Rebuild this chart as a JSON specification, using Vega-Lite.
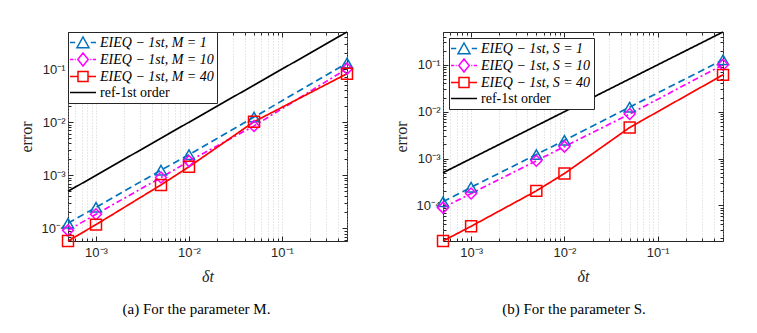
{
  "$schema": "https://vega.github.io/schema/vega-lite/v6.json",
  "padding": {"left": 18, "top": 28, "right": 5, "bottom": 5},
  "background": "white",
  "spacing": 37,
  "resolve": {"scale": {"color": "independent", "shape": "independent"}, "legend": {"color": "independent", "shape": "independent"}},
  "datasets": {
    "a": [
      {"dt": 0.0005, "err": 0.000125, "series": "EIEQ − 1st, M = 1"},
      {"dt": 0.001, "err": 0.00025, "series": "EIEQ − 1st, M = 1"},
      {"dt": 0.005, "err": 0.00125, "series": "EIEQ − 1st, M = 1"},
      {"dt": 0.01, "err": 0.00245, "series": "EIEQ − 1st, M = 1"},
      {"dt": 0.05, "err": 0.0125, "series": "EIEQ − 1st, M = 1"},
      {"dt": 0.5, "err": 0.13, "series": "EIEQ − 1st, M = 1"},
      {"dt": 0.0005, "err": 0.000092, "series": "EIEQ − 1st, M = 10"},
      {"dt": 0.001, "err": 0.000185, "series": "EIEQ − 1st, M = 10"},
      {"dt": 0.005, "err": 0.00091, "series": "EIEQ − 1st, M = 10"},
      {"dt": 0.01, "err": 0.00185, "series": "EIEQ − 1st, M = 10"},
      {"dt": 0.05, "err": 0.0085, "series": "EIEQ − 1st, M = 10"},
      {"dt": 0.5, "err": 0.102, "series": "EIEQ − 1st, M = 10"},
      {"dt": 0.0005, "err": 0.000058, "series": "EIEQ − 1st, M = 40"},
      {"dt": 0.001, "err": 0.000118, "series": "EIEQ − 1st, M = 40"},
      {"dt": 0.005, "err": 0.00066, "series": "EIEQ − 1st, M = 40"},
      {"dt": 0.01, "err": 0.00145, "series": "EIEQ − 1st, M = 40"},
      {"dt": 0.05, "err": 0.0102, "series": "EIEQ − 1st, M = 40"},
      {"dt": 0.5, "err": 0.082, "series": "EIEQ − 1st, M = 40"},
      {"dt": 0.0005, "err": 0.0005, "series": "ref-1st order"},
      {"dt": 0.5, "err": 0.5, "series": "ref-1st order"}
    ],
    "b": [
      {"dt": 0.0005, "err": 0.00012, "series": "EIEQ − 1st, S = 1"},
      {"dt": 0.001, "err": 0.000245, "series": "EIEQ − 1st, S = 1"},
      {"dt": 0.005, "err": 0.00122, "series": "EIEQ − 1st, S = 1"},
      {"dt": 0.01, "err": 0.00245, "series": "EIEQ − 1st, S = 1"},
      {"dt": 0.05, "err": 0.0125, "series": "EIEQ − 1st, S = 1"},
      {"dt": 0.5, "err": 0.128, "series": "EIEQ − 1st, S = 1"},
      {"dt": 0.0005, "err": 0.00009, "series": "EIEQ − 1st, S = 10"},
      {"dt": 0.001, "err": 0.00018, "series": "EIEQ − 1st, S = 10"},
      {"dt": 0.005, "err": 0.0009, "series": "EIEQ − 1st, S = 10"},
      {"dt": 0.01, "err": 0.0018, "series": "EIEQ − 1st, S = 10"},
      {"dt": 0.05, "err": 0.0089, "series": "EIEQ − 1st, S = 10"},
      {"dt": 0.5, "err": 0.1, "series": "EIEQ − 1st, S = 10"},
      {"dt": 0.0005, "err": 0.0000175, "series": "EIEQ − 1st, S = 40"},
      {"dt": 0.001, "err": 0.000036, "series": "EIEQ − 1st, S = 40"},
      {"dt": 0.005, "err": 0.000205, "series": "EIEQ − 1st, S = 40"},
      {"dt": 0.01, "err": 0.00048, "series": "EIEQ − 1st, S = 40"},
      {"dt": 0.05, "err": 0.0046, "series": "EIEQ − 1st, S = 40"},
      {"dt": 0.5, "err": 0.061, "series": "EIEQ − 1st, S = 40"},
      {"dt": 0.0005, "err": 0.0005, "series": "ref-1st order"},
      {"dt": 0.5, "err": 0.5, "series": "ref-1st order"}
    ]
  },
  "hconcat": [
    {
      "width": 279,
      "height": 209,
      "data": {"name": "a"},
      "title": {"text": "(a)  For the parameter M.", "orient": "bottom", "anchor": "middle", "dx": -11, "offset": 18, "font": "Liberation Serif", "fontSize": 15, "fontWeight": "normal", "color": "black"},
      "resolve": {"axis": {"x": "independent", "y": "independent"}},
      "layer": [
        {
          "mark": {"type": "line", "strokeWidth": 1.7, "clip": false},
          "encoding": {
            "x": {"field": "dt", "type": "quantitative", "scale": {"type": "log", "domain": [0.0005, 0.5], "nice": false},
              "axis": {"title": "δt", "values": [0.0005,0.0006,0.0007,0.0008,0.0009,0.001,0.002,0.003,0.004,0.005,0.006,0.007,0.008,0.009,0.01,0.02,0.03,0.04,0.05,0.06,0.07,0.08,0.09,0.1,0.2,0.3,0.4,0.5],
                "labelExpr": "abs(log(datum.value)/LN10 - round(log(datum.value)/LN10)) < 0.001 ? '10' + ['⁰','⁻¹','⁻²','⁻³','⁻⁴','⁻⁵'][-round(log(datum.value)/LN10)] : ''",
                "tickSize": {"condition": {"test": "abs(log(datum.value)/LN10 - round(log(datum.value)/LN10)) < 0.001", "value": -5}, "value": -3},
                "grid": true}},
            "y": {"field": "err", "type": "quantitative", "scale": {"type": "log", "domain": [0.000058, 0.5], "nice": false},
              "axis": {"title": "error", "values": [0.00006,0.00007,0.00008,0.00009,0.0001,0.0002,0.0003,0.0004,0.0005,0.0006,0.0007,0.0008,0.0009,0.001,0.002,0.003,0.004,0.005,0.006,0.007,0.008,0.009,0.01,0.02,0.03,0.04,0.05,0.06,0.07,0.08,0.09,0.1,0.2,0.3,0.4,0.5],
                "labelExpr": "abs(log(datum.value)/LN10 - round(log(datum.value)/LN10)) < 0.001 ? '10' + ['⁰','⁻¹','⁻²','⁻³','⁻⁴','⁻⁵'][-round(log(datum.value)/LN10)] : ''",
                "tickSize": {"condition": {"test": "abs(log(datum.value)/LN10 - round(log(datum.value)/LN10)) < 0.001", "value": -5}, "value": -3},
                "grid": false}},
            "color": {"field": "series", "type": "nominal",
              "scale": {"domain": ["EIEQ − 1st, M = 1", "EIEQ − 1st, M = 10", "EIEQ − 1st, M = 40", "ref-1st order"], "range": ["#0072BD", "#FF00FF", "#FF0000", "#000000"]},
              "legend": {"orient": "top-left", "offset": 0, "title": null, "strokeColor": "#262626", "fillColor": "white", "padding": 3, "labelFont": "Liberation Serif", "labelFontSize": 14, "labelColor": "black", "symbolSize": 169, "symbolOffset": 11, "rowPadding": -1, "labelOffset": 3, "symbolStrokeWidth": 1.5, "labelLimit": 300,
                "encode": {
                  "symbols": {"update": {
                    "shape": {"signal": "['M-3,0H-2.2M0.2,0H1M-1.92,0.8L-1,-0.85L-0.08,0.8Z', 'M-3,0H-2.5M-2.28,0H-2.12M0.12,0H0.28M0.5,0H1M-1,-1L-0.2,0L-1,1L-1.8,0Z', 'M-3,0H-1.77M-0.23,0H1M-1.77,-0.77H-0.23V0.77H-1.77Z', 'M-3,0H1'][indexof(['EIEQ − 1st, M = 1', 'EIEQ − 1st, M = 10', 'EIEQ − 1st, M = 40', 'ref-1st order'], datum.value)]"},
                    "fill": {"value": "transparent"},
                    "opacity": {"value": 1}}},
                  "labels": {"update": {"font": {"value": "Liberation Serif"}, "fontStyle": {"signal": "datum.value == 'ref-1st order' ? 'normal' : 'italic'"}}}
                }}},
            "strokeDash": {"condition": [{"test": "datum.series == 'EIEQ − 1st, M = 1'", "value": [7, 4]}, {"test": "datum.series == 'EIEQ − 1st, M = 10'", "value": [6, 3, 2, 3]}], "value": [1, 0]}
          }
        },
        {
          "transform": [{"filter": "datum.series != 'ref-1st order'"}],
          "mark": {"type": "point", "filled": false, "size": 120, "strokeWidth": 1.5, "opacity": 1, "clip": false},
          "encoding": {
            "x": {"field": "dt", "type": "quantitative", "axis": {"orient": "top", "title": null, "labels": false, "grid": false, "values": [0.0005,0.0006,0.0007,0.0008,0.0009,0.001,0.002,0.003,0.004,0.005,0.006,0.007,0.008,0.009,0.01,0.02,0.03,0.04,0.05,0.06,0.07,0.08,0.09,0.1,0.2,0.3,0.4,0.5],
                "tickSize": {"condition": {"test": "abs(log(datum.value)/LN10 - round(log(datum.value)/LN10)) < 0.001", "value": -5}, "value": -3}}},
            "y": {"field": "err", "type": "quantitative", "axis": {"orient": "right", "title": null, "labels": false, "grid": false, "values": [0.00006,0.00007,0.00008,0.00009,0.0001,0.0002,0.0003,0.0004,0.0005,0.0006,0.0007,0.0008,0.0009,0.001,0.002,0.003,0.004,0.005,0.006,0.007,0.008,0.009,0.01,0.02,0.03,0.04,0.05,0.06,0.07,0.08,0.09,0.1,0.2,0.3,0.4,0.5],
                "tickSize": {"condition": {"test": "abs(log(datum.value)/LN10 - round(log(datum.value)/LN10)) < 0.001", "value": -5}, "value": -3}}},
            "color": {"field": "series", "type": "nominal"},
            "shape": {"field": "series", "type": "nominal",
              "scale": {"domain": ["EIEQ − 1st, M = 1", "EIEQ − 1st, M = 10", "EIEQ − 1st, M = 40"], "range": ["triangle-up", "diamond", "square"]},
              "legend": null}
          }
        }
      ]
    },
    {
      "width": 280,
      "height": 209,
      "data": {"name": "b"},
      "title": {"text": "(b)  For the parameter S.", "orient": "bottom", "anchor": "middle", "dx": -9, "offset": 18, "font": "Liberation Serif", "fontSize": 15, "fontWeight": "normal", "color": "black"},
      "resolve": {"axis": {"x": "independent", "y": "independent"}},
      "layer": [
        {
          "mark": {"type": "line", "strokeWidth": 1.7, "clip": false},
          "encoding": {
            "x": {"field": "dt", "type": "quantitative", "scale": {"type": "log", "domain": [0.0005, 0.5], "nice": false},
              "axis": {"title": "δt", "values": [0.0005,0.0006,0.0007,0.0008,0.0009,0.001,0.002,0.003,0.004,0.005,0.006,0.007,0.008,0.009,0.01,0.02,0.03,0.04,0.05,0.06,0.07,0.08,0.09,0.1,0.2,0.3,0.4,0.5],
                "labelExpr": "abs(log(datum.value)/LN10 - round(log(datum.value)/LN10)) < 0.001 ? '10' + ['⁰','⁻¹','⁻²','⁻³','⁻⁴','⁻⁵'][-round(log(datum.value)/LN10)] : ''",
                "tickSize": {"condition": {"test": "abs(log(datum.value)/LN10 - round(log(datum.value)/LN10)) < 0.001", "value": -5}, "value": -3},
                "grid": true}},
            "y": {"field": "err", "type": "quantitative", "scale": {"type": "log", "domain": [0.0000175, 0.5], "nice": false},
              "axis": {"title": "error", "values": [0.00002,0.00003,0.00004,0.00005,0.00006,0.00007,0.00008,0.00009,0.0001,0.0002,0.0003,0.0004,0.0005,0.0006,0.0007,0.0008,0.0009,0.001,0.002,0.003,0.004,0.005,0.006,0.007,0.008,0.009,0.01,0.02,0.03,0.04,0.05,0.06,0.07,0.08,0.09,0.1,0.2,0.3,0.4,0.5],
                "labelExpr": "abs(log(datum.value)/LN10 - round(log(datum.value)/LN10)) < 0.001 ? '10' + ['⁰','⁻¹','⁻²','⁻³','⁻⁴','⁻⁵'][-round(log(datum.value)/LN10)] : ''",
                "tickSize": {"condition": {"test": "abs(log(datum.value)/LN10 - round(log(datum.value)/LN10)) < 0.001", "value": -5}, "value": -3},
                "grid": false}},
            "color": {"field": "series", "type": "nominal",
              "scale": {"domain": ["EIEQ − 1st, S = 1", "EIEQ − 1st, S = 10", "EIEQ − 1st, S = 40", "ref-1st order"], "range": ["#0072BD", "#FF00FF", "#FF0000", "#000000"]},
              "legend": {"orient": "top-left", "offset": 6, "title": null, "strokeColor": "#262626", "fillColor": "white", "padding": 3, "labelFont": "Liberation Serif", "labelFontSize": 14, "labelColor": "black", "symbolSize": 169, "symbolOffset": 11, "rowPadding": -1, "labelOffset": 3, "symbolStrokeWidth": 1.5, "labelLimit": 300,
                "encode": {
                  "symbols": {"update": {
                    "shape": {"signal": "['M-3,0H-2.2M0.2,0H1M-1.92,0.8L-1,-0.85L-0.08,0.8Z', 'M-3,0H-2.5M-2.28,0H-2.12M0.12,0H0.28M0.5,0H1M-1,-1L-0.2,0L-1,1L-1.8,0Z', 'M-3,0H-1.77M-0.23,0H1M-1.77,-0.77H-0.23V0.77H-1.77Z', 'M-3,0H1'][indexof(['EIEQ − 1st, S = 1', 'EIEQ − 1st, S = 10', 'EIEQ − 1st, S = 40', 'ref-1st order'], datum.value)]"},
                    "fill": {"value": "transparent"},
                    "opacity": {"value": 1}}},
                  "labels": {"update": {"font": {"value": "Liberation Serif"}, "fontStyle": {"signal": "datum.value == 'ref-1st order' ? 'normal' : 'italic'"}}}
                }}},
            "strokeDash": {"condition": [{"test": "datum.series == 'EIEQ − 1st, S = 1'", "value": [7, 4]}, {"test": "datum.series == 'EIEQ − 1st, S = 10'", "value": [6, 3, 2, 3]}], "value": [1, 0]}
          }
        },
        {
          "transform": [{"filter": "datum.series != 'ref-1st order'"}],
          "mark": {"type": "point", "filled": false, "size": 120, "strokeWidth": 1.5, "opacity": 1, "clip": false},
          "encoding": {
            "x": {"field": "dt", "type": "quantitative", "axis": {"orient": "top", "title": null, "labels": false, "grid": false, "values": [0.0005,0.0006,0.0007,0.0008,0.0009,0.001,0.002,0.003,0.004,0.005,0.006,0.007,0.008,0.009,0.01,0.02,0.03,0.04,0.05,0.06,0.07,0.08,0.09,0.1,0.2,0.3,0.4,0.5],
                "tickSize": {"condition": {"test": "abs(log(datum.value)/LN10 - round(log(datum.value)/LN10)) < 0.001", "value": -5}, "value": -3}}},
            "y": {"field": "err", "type": "quantitative", "axis": {"orient": "right", "title": null, "labels": false, "grid": false, "values": [0.00002,0.00003,0.00004,0.00005,0.00006,0.00007,0.00008,0.00009,0.0001,0.0002,0.0003,0.0004,0.0005,0.0006,0.0007,0.0008,0.0009,0.001,0.002,0.003,0.004,0.005,0.006,0.007,0.008,0.009,0.01,0.02,0.03,0.04,0.05,0.06,0.07,0.08,0.09,0.1,0.2,0.3,0.4,0.5],
                "tickSize": {"condition": {"test": "abs(log(datum.value)/LN10 - round(log(datum.value)/LN10)) < 0.001", "value": -5}, "value": -3}}},
            "color": {"field": "series", "type": "nominal"},
            "shape": {"field": "series", "type": "nominal",
              "scale": {"domain": ["EIEQ − 1st, S = 1", "EIEQ − 1st, S = 10", "EIEQ − 1st, S = 40"], "range": ["triangle-up", "diamond", "square"]},
              "legend": null}
          }
        }
      ]
    }
  ],
  "config": {
    "view": {"stroke": "#262626", "strokeWidth": 1},
    "axis": {"domain": false, "labelFont": "Liberation Sans", "labelFontSize": 13, "labelColor": "#262626", "tickColor": "#262626", "labelPadding": 8,
      "titleFont": "Liberation Serif", "titleFontSize": 16, "titleFontWeight": "normal", "titleColor": "#262626",
      "gridColor": "#bdbdbd", "gridDash": [1, 2], "gridWidth": 0.7},
    "axisX": {"titleFontStyle": "italic", "titlePadding": 9, "labelPadding": 10},
    "axisY": {"titlePadding": 6}
  }
}
